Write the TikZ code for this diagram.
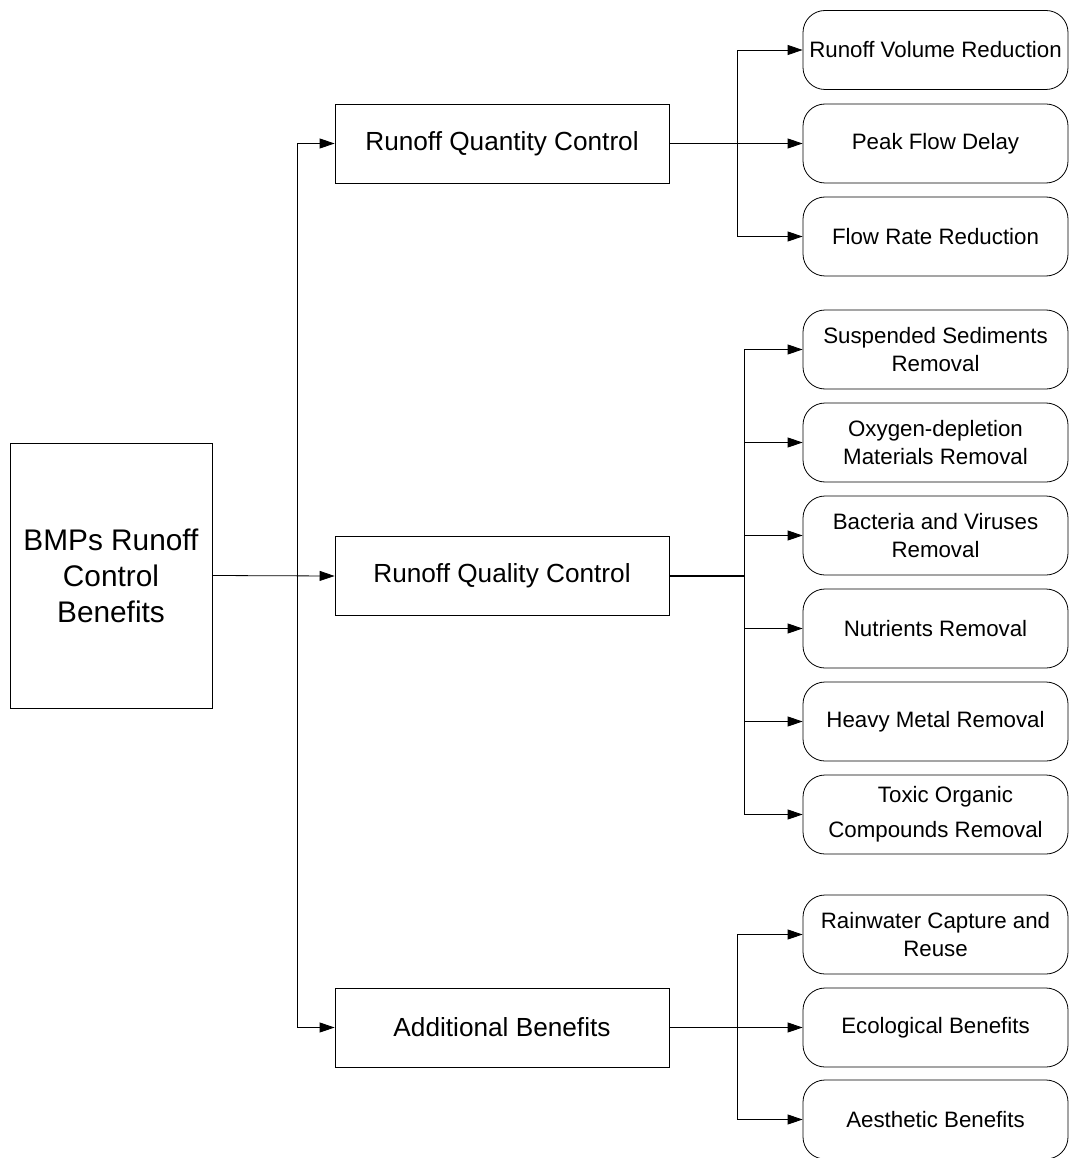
\documentclass[tikz,border=0pt]{standalone}
\usepackage{fontspec}
\setmainfont{Liberation Sans}
\usetikzlibrary{arrows.meta}
\begin{document}
\begin{tikzpicture}[x=1pt,y=-1pt,
  line width=0.8pt,
  rootbox/.style={draw, rectangle, minimum width=202pt, minimum height=265pt, inner sep=0pt, align=center, font=\fontsize{29.8}{36}\selectfont},
  midbox/.style={draw, rectangle, minimum width=334pt, minimum height=79pt, inner sep=0pt, align=center, font=\fontsize{26.2}{30}\selectfont},
  leafbox/.style={draw, rounded corners=22pt, minimum width=265pt, minimum height=79pt, inner sep=0pt, align=center, font=\fontsize{22.3}{28}\selectfont},
  arr/.style={-{Triangle[length=15pt,width=10pt]}}]
\useasboundingbox (0,0) rectangle (1069,1158);
% root
\node[rootbox] (root) at (111,575.5) {BMPs Runoff\\Control\\Benefits};
% middle
\node[midbox] (qty) at (502,143.5) {Runoff Quantity Control};
\node[midbox] (qual) at (502,576) {Runoff Quality Control};
\node[midbox] (add) at (502,1027.5) {Additional Benefits};
% leaves
\node[leafbox] (r1) at (935.5,50) {Runoff Volume Reduction};
\node[leafbox] (r2) at (935.5,143.5) {Peak Flow Delay};
\node[leafbox] (r3) at (935.5,236.5) {Flow Rate Reduction};
\node[leafbox] (q1) at (935.5,349.5) {Suspended Sediments\\Removal};
\node[leafbox] (q2) at (935.5,442.5) {Oxygen-depletion\\Materials Removal};
\node[leafbox] (q3) at (935.5,535.5) {Bacteria and Viruses\\Removal};
\node[leafbox] (q4) at (935.5,628.5) {Nutrients Removal};
\node[leafbox] (q5) at (935.5,721.5) {Heavy Metal Removal};
\node[leafbox, font=\fontsize{22.3}{35}\selectfont] (q6) at (935.5,814.5) {\hspace*{20pt}Toxic Organic\\Compounds Removal};
\node[leafbox] (a1) at (935.5,934.5) {Rainwater Capture and\\Reuse};
\node[leafbox] (a2) at (935.5,1027.5) {Ecological Benefits};
\node[leafbox] (a3) at (935.5,1119.5) {Aesthetic Benefits};
% trunk
\coordinate (tr) at (297,576);
\draw[arr] (root.east) -- (qual.west);
\draw[arr] (tr) |- (qty.west);
\draw[arr] (tr) |- (add.west);
% quantity branch
\coordinate (jq) at (737,143.5);
\draw[arr] (qty.east) -- (r2.west);
\draw[arr] (jq) |- (r1.west);
\draw[arr] (jq) |- (r3.west);
% quality branch
\coordinate (jl) at (744,576);
\draw[line width=1.3pt] (qual.east) -- (jl);
\draw[arr] (jl) |- (q1.west);
\draw[arr] (jl) |- (q2.west);
\draw[arr] (jl) |- (q3.west);
\draw[arr] (jl) |- (q4.west);
\draw[arr] (jl) |- (q5.west);
\draw[arr] (jl) |- (q6.west);
% additional branch
\coordinate (ja) at (737,1027.5);
\draw[arr] (add.east) -- (a2.west);
\draw[arr] (ja) |- (a1.west);
\draw[arr] (ja) |- (a3.west);
\end{tikzpicture}
\end{document}
